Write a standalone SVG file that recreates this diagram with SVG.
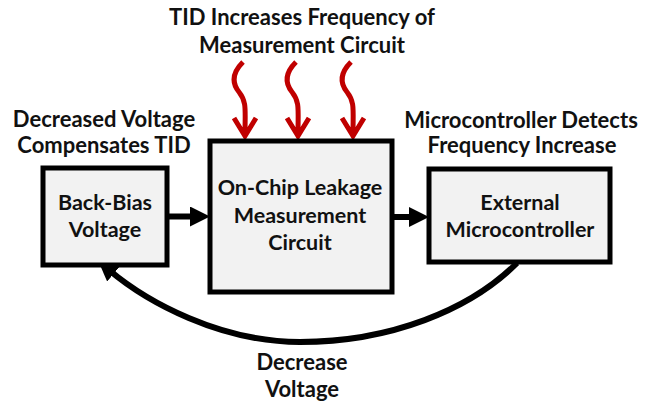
<svg xmlns="http://www.w3.org/2000/svg" width="647" height="406" viewBox="0 0 647 406">
<style>
text{font-family:Lato,"Open Sans","Liberation Sans",sans-serif;font-weight:bold;font-size:22px;fill:#111;text-anchor:middle}
.in{font-size:21.5px}
.box{fill:#f2f2f2;stroke:#000;stroke-width:5}
.conn{fill:none;stroke:#000;stroke-width:6}
.heat{fill:none;stroke:#c00000;stroke-width:5;stroke-linejoin:miter}
</style>
<defs>
<marker id="ah" viewBox="0 0 20 20" markerWidth="20" markerHeight="20" refX="6" refY="10" orient="auto" markerUnits="userSpaceOnUse">
<path d="M0,0 L20,10 L0,20 z" fill="#000"/>
</marker>
<path id="squig" d="M-2,62 C-12,72 -14,82 -6,92 C2,102 0,110 0,134 M-11,118 L0,136 L11,118"/>
</defs>
<rect width="647" height="406" fill="#fff"/>
<g id="title">
<text x="302" y="25">TID Increases Frequency of</text>
<text x="302" y="53">Measurement Circuit</text>
</g>
<g id="heat" class="heat">
<use href="#squig" x="245"/>
<use href="#squig" x="298"/>
<use href="#squig" x="353"/>
</g>
<g id="connectors">
<line class="conn" x1="167" y1="216.5" x2="196" y2="216.5" marker-end="url(#ah)"/>
<line class="conn" x1="392" y1="217" x2="415" y2="217" marker-end="url(#ah)"/>
<path class="conn" d="M517,263 C470,310 390,342 300,342 C220,342 147,302 109,270" marker-end="url(#ah)"/>
</g>
<g id="backbias">
<rect class="box" x="43" y="168" width="124" height="97"/>
<text class="in" x="105" y="210">Back-Bias</text>
<text class="in" x="105" y="237">Voltage</text>
</g>
<g id="leakage">
<rect class="box" x="210" y="141" width="182" height="151"/>
<text class="in" x="300" y="195">On-Chip Leakage</text>
<text class="in" x="300" y="223">Measurement</text>
<text class="in" x="300" y="250">Circuit</text>
</g>
<g id="micro">
<rect class="box" x="429" y="169" width="181" height="93"/>
<text class="in" x="520" y="210">External</text>
<text class="in" x="520" y="237">Microcontroller</text>
</g>
<g id="labels">
<text x="104" y="127">Decreased Voltage</text>
<text x="104" y="153">Compensates TID</text>
<text x="521" y="128">Microcontroller Detects</text>
<text x="522" y="153">Frequency Increase</text>
<text x="302" y="370">Decrease</text>
<text x="302" y="397">Voltage</text>
</g>
</svg>
